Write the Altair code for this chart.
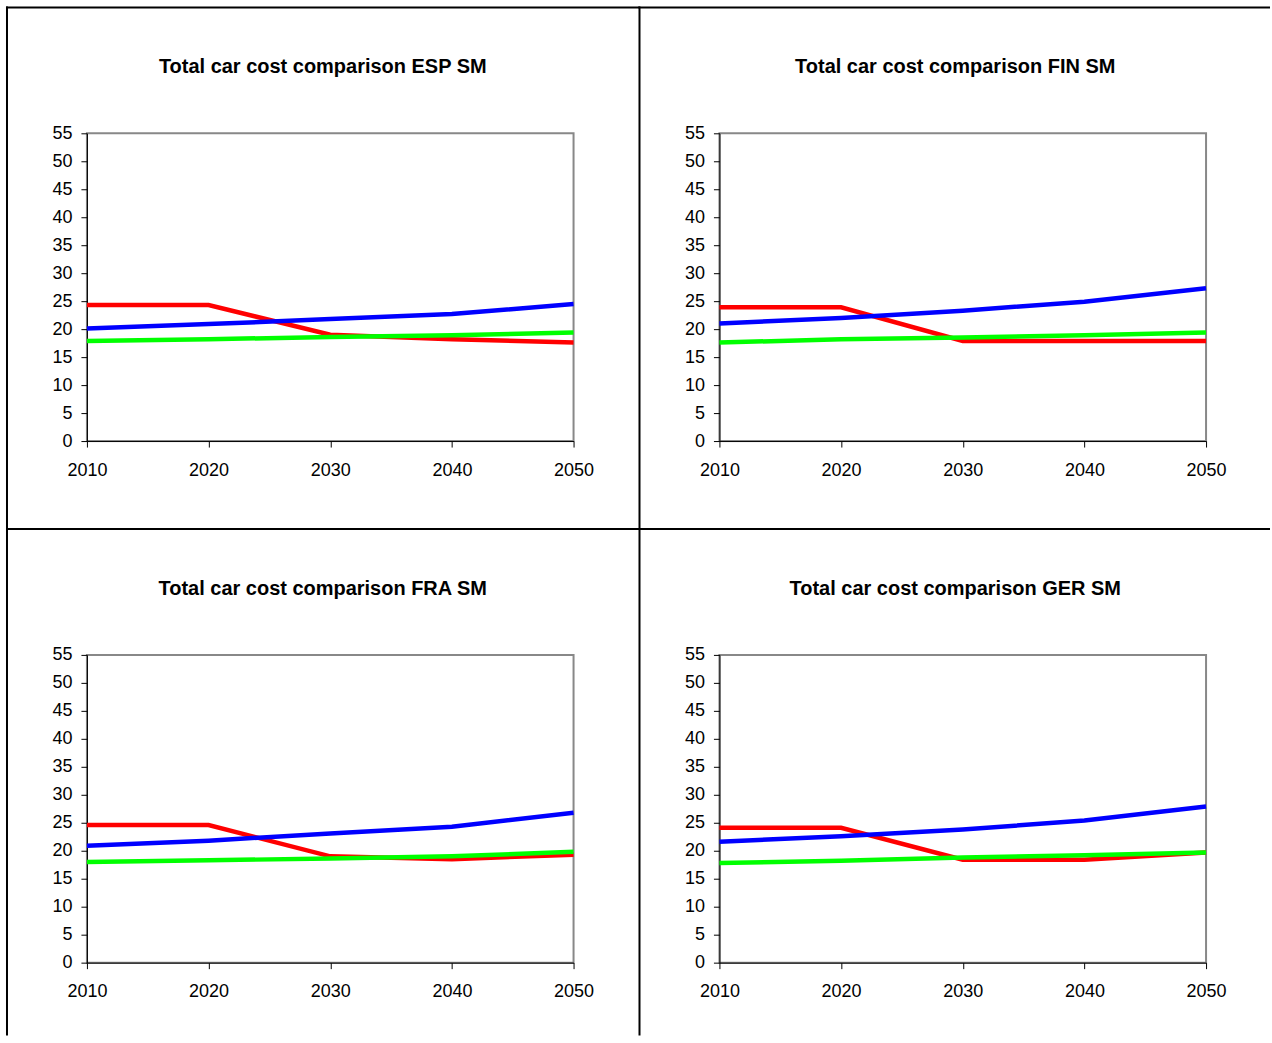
import altair as alt
import pandas as pd

# Years on the horizontal axis
years = [2010, 2020, 2030, 2040, 2050]
y_ticks = list(range(0, 56, 5))

# Panel headings
titles = [
    "Total car cost comparison ESP SM",
    "Total car cost comparison FIN SM",
    "Total car cost comparison FRA SM",
    "Total car cost comparison GER SM",
]

# Total cost series per country (red, blue, green lines)
esp_red = [24.3, 24.3, 19.0, 18.2, 17.6]
esp_blue = [20.1, 20.9, 21.8, 22.7, 24.5]
esp_green = [17.9, 18.2, 18.6, 18.9, 19.4]

fin_red = [23.9, 23.9, 17.9, 17.9, 17.9]
fin_blue = [21.0, 22.0, 23.3, 24.9, 27.3]
fin_green = [17.6, 18.2, 18.5, 18.9, 19.4]

fra_red = [24.6, 24.6, 19.0, 18.5, 19.3]
fra_blue = [20.9, 21.8, 23.1, 24.3, 26.8]
fra_green = [18.0, 18.3, 18.6, 19.0, 19.8]

ger_red = [24.1, 24.1, 18.4, 18.4, 19.7]
ger_blue = [21.6, 22.6, 23.8, 25.4, 27.9]
ger_green = [17.8, 18.2, 18.8, 19.2, 19.7]

line_colors = ["#ff0000", "#0000ff", "#00ff00"]

PLOT_W, PLOT_H = 487, 308


def panel(title, series, frame_right, frame_bottom):
    x = alt.X(
        "year:Q",
        scale=alt.Scale(domain=[2010, 2050], nice=False, zero=False),
        axis=alt.Axis(values=years, format="d", title=None, labelFlush=False),
    )
    y = alt.Y(
        "cost:Q",
        scale=alt.Scale(domain=[0, 55], nice=False),
        axis=alt.Axis(values=y_ticks, title=None),
    )
    lines = []
    for vals, col in zip(series, line_colors):
        df = pd.DataFrame({"year": years, "cost": vals})
        lines.append(
            alt.Chart(df).mark_line(color=col, strokeWidth=4.5).encode(x=x, y=y)
        )

    one = pd.DataFrame({"t": [title]})
    # cell frame: left and top edges of each quadrant
    edge_v = alt.Chart(one).mark_rule(color="black", strokeWidth=2).encode(
        x=alt.value(-80), y=alt.value(-127), y2=alt.value(frame_bottom)
    )
    edge_h = alt.Chart(one).mark_rule(color="black", strokeWidth=2).encode(
        x=alt.value(-81), x2=alt.value(frame_right), y=alt.value(-126)
    )
    head = alt.Chart(one).mark_text(
        font="Liberation Sans",
        fontSize=20,
        fontWeight="bold",
        color="black",
        align="center",
        baseline="alphabetic",
    ).encode(x=alt.value(236), y=alt.value(-60), text="t:N")

    return alt.layer(edge_v, edge_h, *lines, head).properties(
        width=PLOT_W, height=PLOT_H
    )


p_esp = panel(titles[0], [esp_red, esp_blue, esp_green], 553, 395)
p_fin = panel(titles[1], [fin_red, fin_blue, fin_green], 551, 395)
p_fra = panel(titles[2], [fra_red, fra_blue, fra_green], 553, 381)
p_ger = panel(titles[3], [ger_red, ger_blue, ger_green], 551, 381)

chart = (
    alt.concat(
        p_esp, p_fin, p_fra, p_ger,
        columns=2,
        spacing=alt.RowColnumber(row=214, column=146),
        bounds="flush",
    )
    .properties(padding={"left": 4, "top": 4, "right": 0, "bottom": 0}, background="white")
    .configure_view(stroke="#888888", strokeWidth=2)
    .configure_axis(
        grid=False,
        domainColor="black",
        domainWidth=1,
        tickColor="black",
        tickWidth=1,
        tickSize=6,
        labelFont="Liberation Sans",
        labelFontSize=18,
        labelColor="black",
    )
    .configure_axisX(labelPadding=14)
    .configure_axisY(labelPadding=9)
)

chart.save("out.html", embed_options={"renderer": "svg", "actions": False})
